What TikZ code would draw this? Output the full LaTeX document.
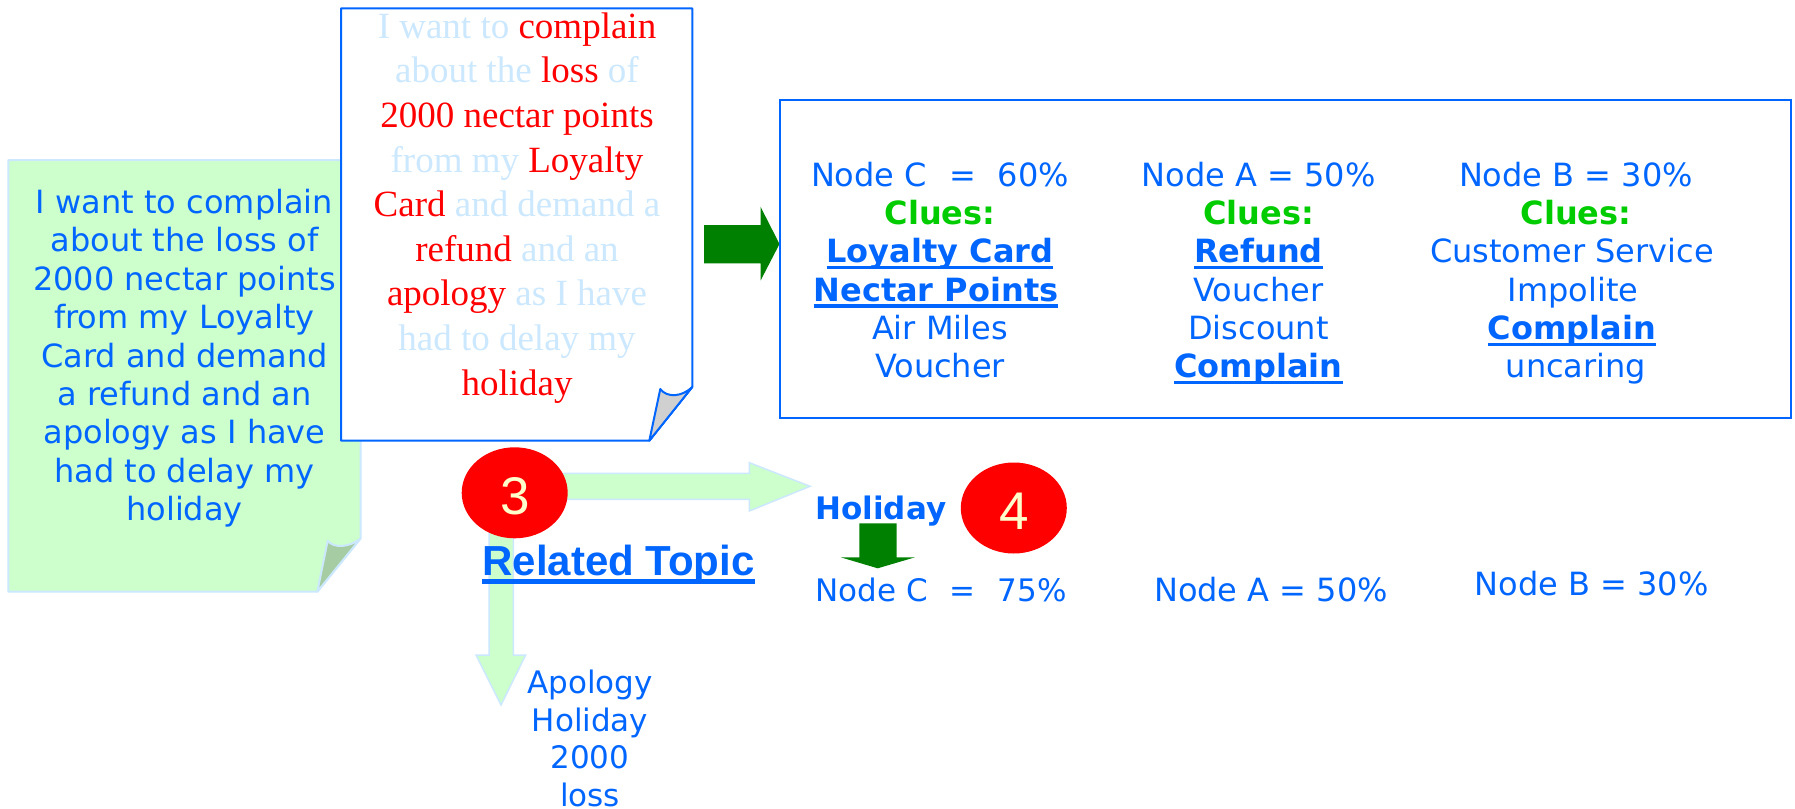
\documentclass[tikz,border=0pt]{standalone}
\usepackage{fontspec}
\setmainfont{DejaVu Sans}
\newfontfamily\tms{Liberation Serif}
\newfontfamily\arl{Liberation Sans}
\usetikzlibrary{shapes.geometric}
\definecolor{blueT}{HTML}{0066FF}
\definecolor{clueG}{HTML}{00CC00}
\definecolor{darkG}{HTML}{008000}
\definecolor{lightG}{HTML}{CCFFCC}
\definecolor{lightB}{HTML}{CCE8FF}
\definecolor{foldG}{HTML}{A6CCA3}
\definecolor{foldW}{HTML}{D0D0D0}
\definecolor{digitY}{HTML}{FFFFCC}
\newcommand\ulbox[3]{\setbox0=\hbox{#3}\rlap{\rule[-#1em]{\wd0}{#2em}}\box0}
\newcommand\ukey[1]{\ulbox{0.2}{0.1}{#1}}
\tikzset{
 ln/.style={anchor=base, inner sep=0pt, text=blueT, font=\fontsize{16pt}{19pt}\selectfont},
 lnw/.style={ln, anchor=base west},
 clue/.style={ln, text=clueG, font=\fontsize{16pt}{19pt}\selectfont\bfseries},
 keyw/.style={ln, font=\fontsize{16pt}{19pt}\selectfont\bfseries},
 serif/.style={anchor=base, inner sep=0pt, text=lightB, font=\tms\fontsize{18.5pt}{22pt}\selectfont},
 num/.style={anchor=base, inner sep=0pt, text=digitY, font=\arl\fontsize{26.5pt}{30pt}\selectfont},
 badge/.style={ellipse, fill=red, inner sep=0pt, minimum width=53pt, minimum height=45.5pt},
 smallln/.style={lnw, font=\fontsize{15.5pt}{19pt}\selectfont},
}
\begin{document}
\begin{tikzpicture}[x=0.5pt,y=-0.5pt]
\useasboundingbox (0,0) rectangle (1795,809);
\fill[white] (0,0) rectangle (1795,809);

% green note
\draw[lightB, line width=1pt, fill=lightG, line join=round]
  (8.3,160) -- (360.5,160) -- (360.5,538.5) -- (317.3,591.7) -- (8.3,591.7) -- cycle;
\draw[lightB, line width=1pt, fill=foldG, line join=round]
  (317.3,591.7) -- (327.7,540.7) .. controls (334,549) and (350,547) .. (360.5,538.5) -- cycle;
\node[ln] (g1) at (184.5,213.5) {I want to complain};
\node[ln] (g2) at (184.5,251.9) {about the loss of};
\node[ln] (g3) at (184.5,290.3) {2000 nectar points};
\node[ln] (g4) at (184.5,328.7) {from my Loyalty};
\node[ln] (g5) at (184.5,367.1) {Card and demand};
\node[ln] (g6) at (184.5,405.5) {a refund and an};
\node[ln] (g7) at (184.5,443.9) {apology as I have};
\node[ln] (g8) at (184.5,482.3) {had to delay my};
\node[ln] (g9) at (184.5,520.7) {holiday};

% white note
\draw[blueT, line width=1pt, fill=white, line join=round]
  (341,8.4) -- (692.3,8.4) -- (692.3,387) -- (649.3,440.7) -- (341,440.7) -- cycle;
\draw[blueT, line width=1pt, fill=foldW, line join=round]
  (649.3,440.7) -- (660.3,389) .. controls (667,398) and (682,397) .. (692.3,387) -- cycle;
\node[serif] (w1) at (517,38.3) {I want to {\color{red}complain}};
\node[serif] (w2) at (517,82.9) {about the {\color{red}loss} of};
\node[serif] (w3) at (517,127.5) {\color{red}2000 nectar points};
\node[serif] (w4) at (517,172.1) {from my {\color{red}Loyalty}};
\node[serif] (w5) at (517,216.7) {{\color{red}Card} and demand a};
\node[serif] (w6) at (517,261.3) {{\color{red}refund} and an};
\node[serif] (w7) at (517,305.9) {{\color{red}apology} as I have};
\node[serif] (w8) at (517,350.5) {had to delay my};
\node[serif] (w9) at (517,395.1) {\color{red}holiday};

% dark green right arrow
\fill[darkG] (704,225) -- (760.5,225) -- (760.5,206.7) -- (779.5,244) -- (760.5,280.7) -- (760.5,263.3) -- (704,263.3) -- cycle;

% result box
\draw[blueT, line width=1pt] (780,100) rectangle (1791,418);
\node[ln] (a1) at (940,186.5) {Node C\hspace{11pt}=\hspace{11pt}60\%};
\node[clue] (a2) at (940,224.7) {Clues:};
\node[keyw] (a3) at (940,262.9) {\ukey{Loyalty Card}};
\node[keyw] (a4) at (936,301.1) {\ukey{Nectar Points}};
\node[ln] (a5) at (940,339.3) {Air Miles};
\node[ln] (a6) at (940,377.5) {Voucher};
\node[ln] (b1) at (1258.5,186.5) {Node A = 50\%};
\node[clue] (b2) at (1258.5,224.7) {Clues:};
\node[keyw] (b3) at (1258.5,262.9) {\ukey{Refund}};
\node[ln] (b4) at (1258.5,301.1) {Voucher};
\node[ln] (b5) at (1258.5,339.3) {Discount};
\node[keyw] (b6) at (1258.5,377.5) {\ukey{Complain}};
\node[ln] (d1) at (1576,186.5) {Node B = 30\%};
\node[clue] (d2) at (1576,224.7) {Clues:};
\node[ln] (d3) at (1572,262.9) {Customer Service};
\node[ln] (d4) at (1573,301.1) {Impolite};
\node[keyw] (d5) at (1572,339.3) {\ukey{Complain}};
\node[ln] (d6) at (1576,377.5) {uncaring};

% light green L arrow
\draw[lightB, line width=0.75pt, fill=lightG, line join=miter]
  (489,473.3) -- (749.3,473.3) -- (749.3,462.7) -- (810,486.3) -- (749.3,511) -- (749.3,499.3)
  -- (513.3,499.3) -- (513.3,655) -- (525.7,655) -- (501,705) -- (476,655) -- (489,655) -- cycle;

% badges
\node[badge] (c3) at (514.7,492.8) {};
\node[num] (n3) at (515,514) {3};
\node[badge] (c4) at (1013.8,508) {};
\node[num] (n4) at (1013.8,529.3) {4};

\node[anchor=base west, inner sep=0pt, text=blueT, font=\arl\bfseries\fontsize{21pt}{25pt}\selectfont] (rt) at (482,575) {\ulbox{0.21}{0.115}{Related Topic}};

\node[lnw, font=\fontsize{15.5pt}{19pt}\selectfont\bfseries] (hol) at (815,519.3) {Holiday};
\fill[darkG] (859.3,523.3) -- (896.7,523.3) -- (896.7,557.3) -- (915,557.3) -- (877.7,568.3) -- (840.7,557.3) -- (859.3,557.3) -- cycle;

\node[smallln] (r1) at (815,601.7) {Node C\hspace{11pt}=\hspace{11pt}75\%};
\node[lnw] (r2) at (1153.7,601.7) {Node A = 50\%};
\node[lnw] (r3) at (1474.4,595) {Node B = 30\%};

\node[ln, font=\fontsize{15.5pt}{19pt}\selectfont] (t1) at (590,693.3) {Apology};
\node[ln, font=\fontsize{15.5pt}{19pt}\selectfont] (t2) at (590,731.7) {Holiday};
\node[ln, font=\fontsize{15.5pt}{19pt}\selectfont] (t3) at (590,768.8) {2000};
\node[ln, font=\fontsize{15.5pt}{19pt}\selectfont] (t4) at (590,806.5) {loss};
\end{tikzpicture}
\end{document}
